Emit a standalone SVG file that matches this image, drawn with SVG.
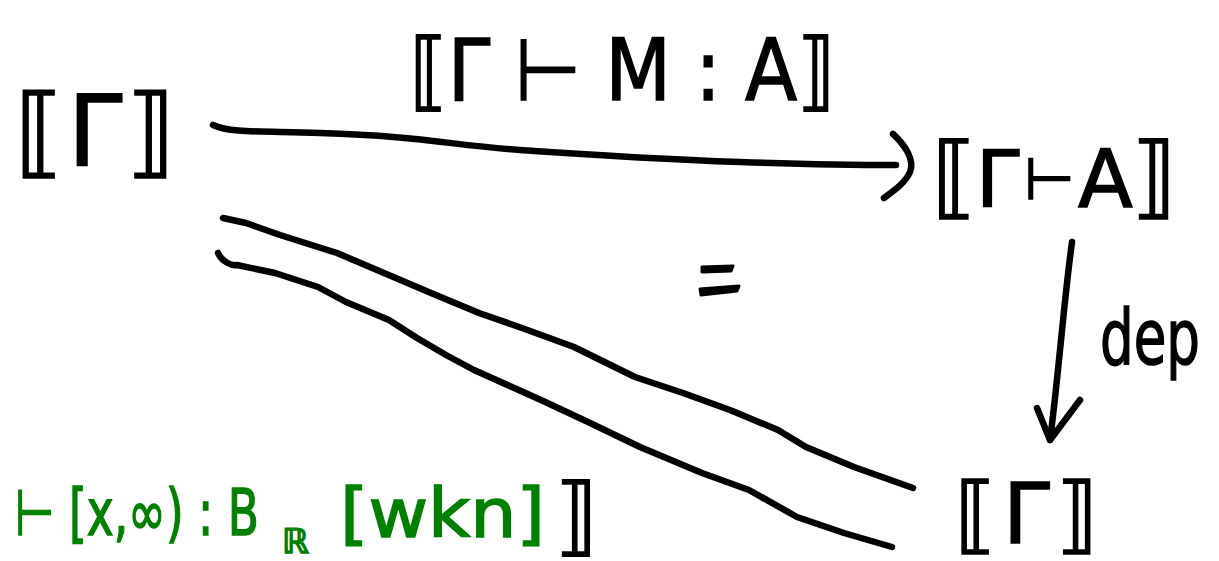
<svg xmlns="http://www.w3.org/2000/svg" width="1219" height="561" viewBox="0 0 1219 561">
<style>
.ink{fill:none;stroke:#000;stroke-width:6.5;stroke-linecap:round;stroke-linejoin:round}
.t{font-family:"DejaVu Sans",sans-serif;fill:#000;stroke:#000;stroke-width:1.5}
.g{font-family:"DejaVu Sans",sans-serif;fill:#008000;stroke:#008000;stroke-width:1.5}
</style>
<rect width="1219" height="561" fill="#fff"/>
<g id="connectors">
  <path class="ink" d="M213,125 C230,133 260,131 320,133 C420,136 450,145 520,150 C620,157 680,160 740,162 C800,164 850,165 896,165"/>
  <path class="ink" d="M893,134 C905,145 915,160 910,172 C905,183 895,190 884,198"/>
  <path class="ink" d="M223,218 L246,223 L280,235 L337,253 L384,273 L431,293 L479,313 L522,328 L574,347 L635,377 L683,393 L730,410 L778,430 L806,447 L854,467 L913,488"/>
  <path class="ink" d="M218,253 C222,262 232,266 237,265 L275,273 L318,287 L346,302 L389,320 L417,338 L446,355 L474,370 L512,387 L541,400 L588,422 L640,447 L702,473 L749,490 L797,517 L844,533 L892,547"/>
  <path class="ink" d="M1072,242 C1064,300 1058,380 1050,440"/>
  <path class="ink" d="M1037,408 L1050,440 L1080,400"/>
  <path d="M702,267 L733,266 L731,271 L702,272 Z M700,289 L739,286 L737,291 L701,295 Z" fill="#000" stroke="#000" stroke-width="3" stroke-linejoin="round"/>
</g>
<g id="label-top">
  <text class="t" x="410" y="100" font-size="86" textLength="425" lengthAdjust="spacingAndGlyphs">⟦Γ ⊢ M : A⟧</text>
</g>
<g id="label-dep">
  <text class="t" x="1100" y="364" font-size="76" textLength="100" lengthAdjust="spacingAndGlyphs">dep</text>
</g>
<g id="node-gamma-left">
  <text class="t" x="15" y="165" font-size="98" textLength="160" lengthAdjust="spacing">⟦Γ⟧</text>
</g>
<g id="node-gamma-A">
  <text class="t" y="207" font-size="90"><tspan x="932">⟦</tspan><tspan x="976" font-size="78">Γ</tspan><tspan x="1024" font-size="58" dy="-8">⊢</tspan><tspan x="1078" font-size="80" dy="8">A</tspan><tspan x="1132">⟧</tspan></text>
</g>
<g id="node-gamma-bottom">
  <text class="t" x="955" y="543" font-size="84" textLength="143" lengthAdjust="spacing">⟦Γ⟧</text>
</g>
<g id="node-green">
  <text class="g" x="15" y="535" font-size="64" textLength="244" lengthAdjust="spacingAndGlyphs">⊢ [x,∞) : B</text>
  <text class="g" x="282" y="553" font-size="34">ℝ</text>
  <text class="g" x="340" y="537" font-size="68" textLength="205" lengthAdjust="spacingAndGlyphs">[wkn]</text>
  <text class="t" x="555" y="545" font-size="86">⟧</text>
</g>
</svg>
